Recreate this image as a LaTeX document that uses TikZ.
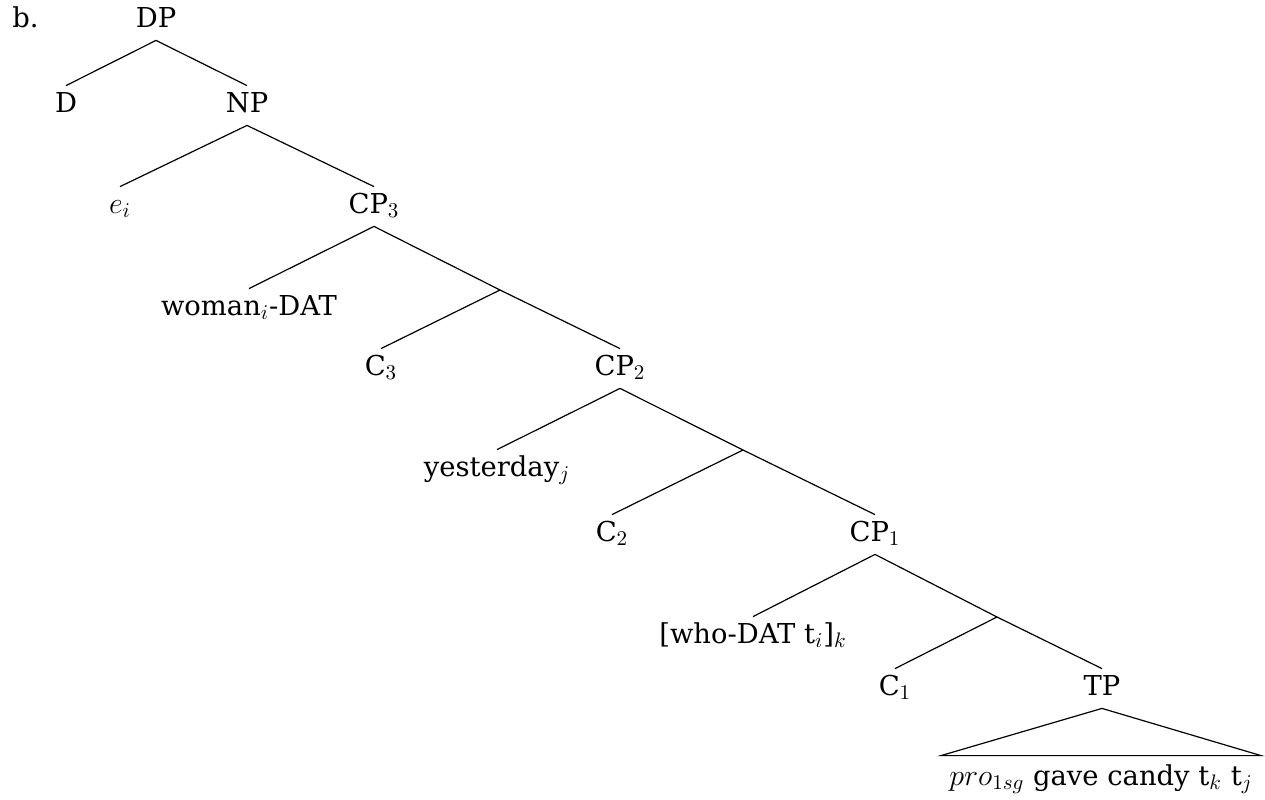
\RequirePackage{fix-cm}
\documentclass[tikz,border=0pt]{standalone}
\usepackage{fontspec}
\setmainfont{DejaVu Serif}
\DeclareMathSizes{13.7}{15}{10.5}{7.5}
\begin{document}
\begin{tikzpicture}[x=0.5pt,y=-0.5pt,
  lbl/.style={anchor=base,inner sep=0pt,text height=13pt,text depth=6.5pt,
    font=\fontsize{13.7}{16}\selectfont},
  edge/.style={line width=0.6pt,black}]
\useasboundingbox (0,0) rectangle (1265,799);
% labels
\node[lbl,anchor=base west] (ex) at (12,27) {b.};
\node[lbl] (dp) at (156,27) {DP};
\node[lbl] (d) at (66,112) {D};
\node[lbl] (np) at (247,112) {NP};
\node[lbl] (e) at (120,213) {$e_i$};
\node[lbl] (cp3) at (374,213) {CP$_3$};
\node[lbl] (woman) at (249,315) {woman$_i$-DAT};
\coordinate (cb3) at (500,290);
\node[lbl] (c3) at (381,375) {C$_3$};
\node[lbl] (cp2) at (620,375) {CP$_2$};
\node[lbl] (yest) at (497,476) {yesterday$_j$};
\coordinate (cb2) at (743,450);
\node[lbl] (c2) at (612,541) {C$_2$};
\node[lbl] (cp1) at (875,541) {CP$_1$};
\node[lbl] (who) at (753,643) {[who-DAT t$_i$]$_k$};
\coordinate (cb1) at (997,617);
\node[lbl] (c1) at (895,695) {C$_1$};
\node[lbl] (tp) at (1102,695) {TP};
\node[anchor=base,inner ysep=0pt,inner xsep=4pt,text height=14.5pt,text depth=4pt,
  font=\fontsize{13.7}{16}\selectfont] (tri) at (1101,785) {$pro_{1sg}$ gave candy t$_k$ t$_j$};
% edges
\draw[edge] (dp.south) -- (d.north);
\draw[edge] (dp.south) -- (np.north);
\draw[edge] (np.south) -- (e.north);
\draw[edge] (np.south) -- (cp3.north);
\draw[edge] (cp3.south) -- (woman.north);
\draw[edge] (cp3.south) -- (cb3);
\draw[edge] (cb3) -- (c3.north);
\draw[edge] (cb3) -- (cp2.north);
\draw[edge] (cp2.south) -- (yest.north);
\draw[edge] (cp2.south) -- (cb2);
\draw[edge] (cb2) -- (c2.north);
\draw[edge] (cb2) -- (cp1.north);
\draw[edge] (cp1.south) -- (who.north);
\draw[edge] (cp1.south) -- (cb1);
\draw[edge] (cb1) -- (c1.north);
\draw[edge] (cb1) -- (tp.north);
\draw[edge] (tp.south) -- (tri.north west) -- (tri.north east) -- cycle;
\end{tikzpicture}
\end{document}
